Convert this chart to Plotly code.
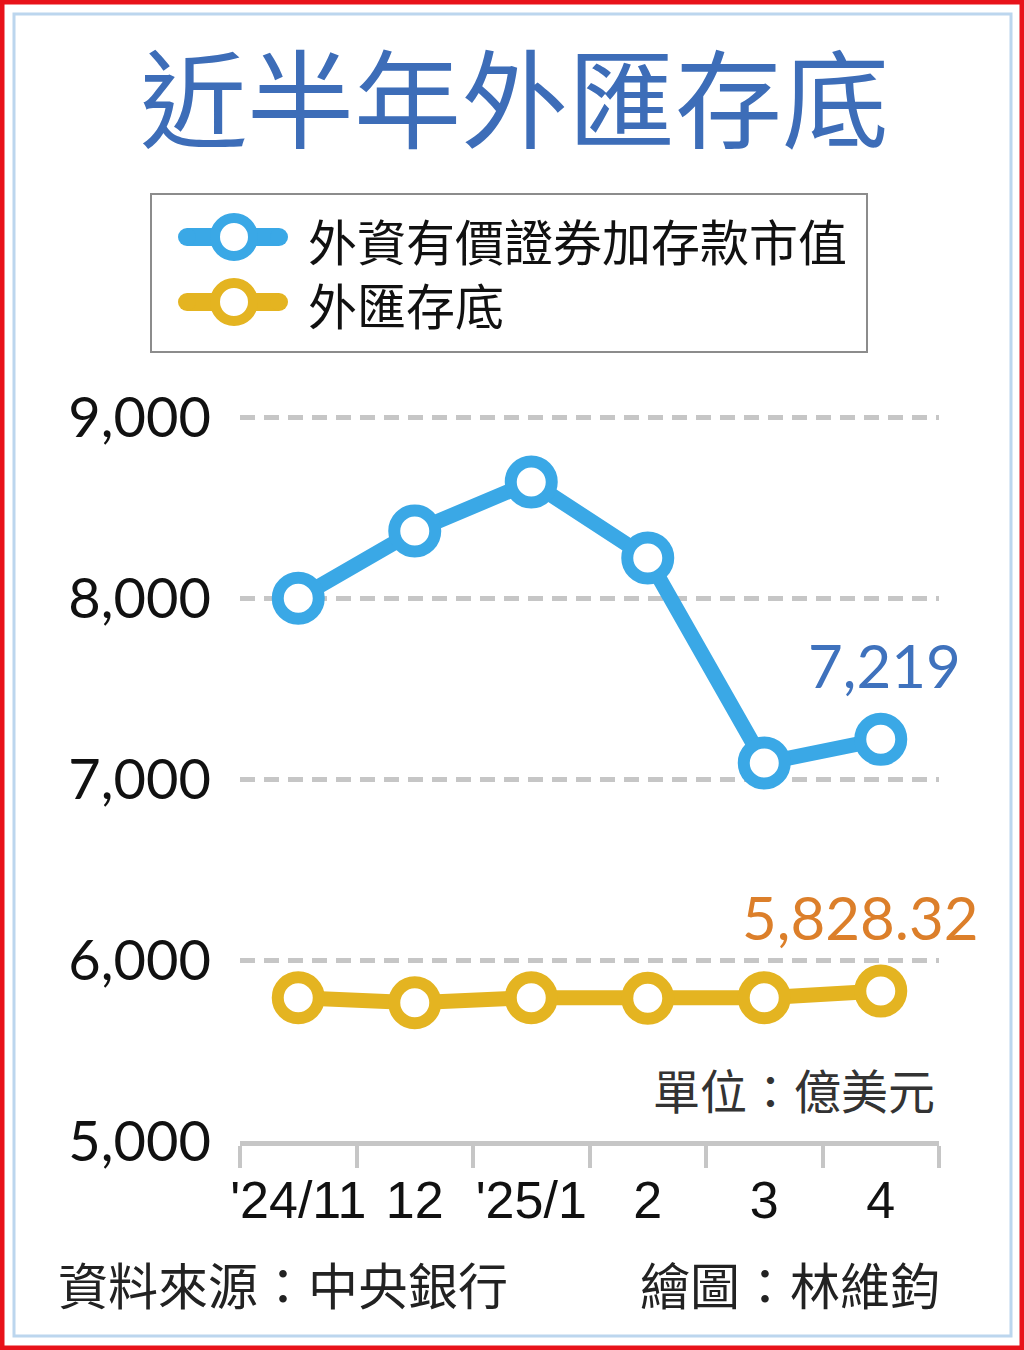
import plotly.graph_objects as go

W, H = 1024, 1350

# ── Data (億美元) ────────────────────────────────────────────────
months = ["'24/11", "12", "'25/1", "2", "3", "4"]
securities_deposits = [7998, 8370, 8641, 8221, 7088, 7219]   # 外資有價證券加存款市值
fx_reserves = [5792, 5764, 5792, 5788, 5792, 5828.32]         # 外匯存底
y_ticks = [5000, 6000, 7000, 8000, 9000]
y_tick_text = ["5,000", "6,000", "7,000", "8,000", "9,000"]

BLUE = "#3aa8e6"
BLUE_TXT = "#3f72bd"
GOLD = "#e4b421"
ORANGE = "#dc7f2a"
GRID = "#c6c6c6"
CJK = "Noto Sans CJK TC"
NUM = "Lato, Liberation Sans, sans-serif"

# pixel geometry of the plot area
Y_BOT, Y_TOP = 1141, 417      # pixel rows of 5000 and 9000
Y_MAX = 9050                  # a little headroom so the 9000 grid line shows
PX_PER = (Y_BOT - Y_TOP) / 4000


def px(x):
    return x / W


def py(y):
    return 1 - y / H


def label(x, y, text, size, color, xanchor="center"):
    fig.add_annotation(
        xref="paper", yref="paper", x=px(x), y=py(y),
        xanchor=xanchor, yanchor="middle", text=text, showarrow=False,
        font=dict(family=CJK, size=size, color=color),
    )


def dot(cx, cy, r, fill, col, width=0):
    fig.add_shape(type="circle", xref="paper", yref="paper",
                  x0=px(cx - r), x1=px(cx + r), y0=py(cy + r), y1=py(cy - r),
                  fillcolor=fill, line=dict(color=col, width=width))


fig = go.Figure()

fig.add_trace(go.Scatter(
    x=months, y=securities_deposits, mode="lines+markers",
    line=dict(color=BLUE, width=15),
    marker=dict(size=41, color="white", line=dict(color=BLUE, width=12)),
    cliponaxis=False, showlegend=False,
))
fig.add_trace(go.Scatter(
    x=months, y=fx_reserves, mode="lines+markers",
    line=dict(color=GOLD, width=15),
    marker=dict(size=41, color="white", line=dict(color=GOLD, width=12)),
    cliponaxis=False, showlegend=False,
))

# ── End-point value labels ───────────────────────────────────────
last = len(months) - 1
fig.add_annotation(
    x=last, y=securities_deposits[-1], text=f"{securities_deposits[-1]:,}",
    showarrow=False, xshift=4, yshift=74,
    font=dict(family=NUM, size=60, color=BLUE_TXT),
)
fig.add_annotation(
    x=last, y=fx_reserves[-1], text=f"{fx_reserves[-1]:,.2f}",
    showarrow=False, xshift=-20, yshift=74,
    font=dict(family=NUM, size=60, color=ORANGE),
)

# ── Frame: red outer border + light blue inner border ────────────
fig.add_shape(type="rect", xref="paper", yref="paper",
              x0=px(2), x1=px(W - 2), y0=py(H - 2), y1=py(2),
              line=dict(color="#e8121a", width=5), layer="below")
fig.add_shape(type="rect", xref="paper", yref="paper",
              x0=px(14), x1=px(W - 13), y0=py(H - 14), y1=py(14),
              line=dict(color="#bcd6ee", width=3), layer="below")

# ── Title ────────────────────────────────────────────────────────
label(514, 93, "近半年外匯存底", 107, "#3d6db8")

# ── Legend box ───────────────────────────────────────────────────
fig.add_shape(type="rect", xref="paper", yref="paper",
              x0=px(151), x1=px(867), y0=py(352), y1=py(194),
              line=dict(color="#8c8c8c", width=2))
for cy, col, name in [(237, BLUE, "外資有價證券加存款市值"),
                      (302, GOLD, "外匯存底")]:
    fig.add_shape(type="line", xref="paper", yref="paper",
                  x0=px(187), x1=px(279), y0=py(cy), y1=py(cy),
                  line=dict(color=col, width=18))
    dot(187, cy, 9, col, col)
    dot(279, cy, 9, col, col)
    dot(234, cy, 19, "white", col, 10)
    label(306, cy + 2, name, 49, "#111111", "left")

# ── Unit / source / credit ───────────────────────────────────────
label(937, 1088, "單位：億美元", 47, "#333333", "right")
label(56, 1283, "資料來源：中央銀行", 50, "#222222", "left")
label(942, 1283, "繪圖：林維鈞", 50, "#222222", "right")

fig.update_layout(
    width=W, height=H,
    margin=dict(l=0, r=0, t=0, b=0, autoexpand=False),
    plot_bgcolor="white", paper_bgcolor="white",
    xaxis=dict(
        type="category", domain=[px(240), px(939)],
        range=[-0.5, len(months) - 0.5], automargin=False,
        tickson="boundaries", ticks="outside", ticklen=22, tickwidth=4,
        tickcolor=GRID, showline=True, linecolor=GRID, linewidth=5,
        showgrid=False, zeroline=False, ticklabelstandoff=10, tickangle=0,
        tickfont=dict(family="Liberation Sans Narrow, Liberation Sans", size=52,
                      color="#111111"),
    ),
    yaxis=dict(
        domain=[py(Y_BOT), py(Y_TOP - (Y_MAX - 9000) * PX_PER)],
        range=[5000, Y_MAX], automargin=False,
        tickvals=y_ticks, ticktext=y_tick_text, ticks="",
        showgrid=True, gridcolor=GRID, gridwidth=5, griddash="15px,9px",
        zeroline=False, showline=False, ticklabelstandoff=28,
        tickfont=dict(family=NUM, size=56, color="#111111"),
    ),
)

fig.write_html("out.html", config={"displayModeBar": False},
               post_script="document.body.style.margin='0';")
